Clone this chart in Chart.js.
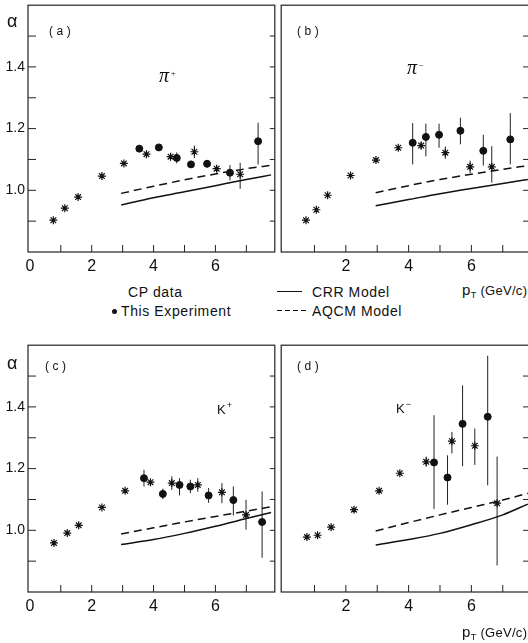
<!DOCTYPE html>
<html>
<head>
<meta charset="utf-8">
<script src="https://cdn.jsdelivr.net/npm/chart.js@4.4.1/dist/chart.umd.min.js"></script>
<style>
  html, body { margin: 0; padding: 0; background: #fff; }
  body { width: 528px; height: 643px; position: relative; overflow: hidden;
         font-family: "Liberation Sans", Arial, sans-serif; color: #111; }
  canvas { position: absolute; }
  .t { position: absolute; white-space: nowrap; line-height: 1; }
  .alpha { font-size: 18px; }
  .tag { font-size: 12px; letter-spacing: 3.5px; }
  .pi { font-family: "Liberation Serif", serif; font-style: italic; font-size: 20px; }
  .kaon { font-size: 13px; }
  .sup { position: relative; font-size: 9px; top: -6px; margin-left: 1px; }
  .leg { font-size: 14px; letter-spacing: 0.6px; }
  .axis { font-size: 13px; letter-spacing: 0.3px; }
  .axis .p { font-size: 15px; }
  .axis sub { font-size: 9px; position: relative; top: 3px; vertical-align: baseline; }
  .dot { position: absolute; width: 5px; height: 5px; border-radius: 50%; background: #111; }
  .solid { position: absolute; height: 1.3px; background: #111; }
  .dash { position: absolute; height: 1.3px;
          background: repeating-linear-gradient(90deg, #111 0 5px, transparent 5px 8px); }
</style>
</head>
<body>
<canvas id="pa" width="280" height="280" style="left:0;top:0"></canvas>
<canvas id="pb" width="264" height="280" style="left:276px;top:0"></canvas>
<canvas id="pc" width="280" height="280" style="left:0;top:340px"></canvas>
<canvas id="pd" width="264" height="280" style="left:276px;top:340px"></canvas>

<div class="t alpha" style="left:7px;top:12px">α</div>
<div class="t alpha" style="left:7px;top:354px">α</div>
<div class="t tag" style="left:49px;top:25px">(a)</div>
<div class="t tag" style="left:297px;top:25px">(b)</div>
<div class="t tag" style="left:45px;top:360px">(c)</div>
<div class="t tag" style="left:297px;top:360px">(d)</div>
<div class="t pi" style="left:159px;top:65px">π<span class="sup">+</span></div>
<div class="t pi" style="left:407px;top:57px">π<span class="sup">−</span></div>
<div class="t kaon" style="left:217px;top:403px">K<span class="sup">+</span></div>
<div class="t kaon" style="left:396px;top:402px">K<span class="sup">−</span></div>

<div class="t leg" style="left:128px;top:285px">CP data</div>
<div class="dot" style="left:112px;top:309px"></div>
<div class="t leg" style="left:121px;top:304px">This Experiment</div>
<div class="solid" style="left:277px;top:291px;width:25px"></div>
<div class="t leg" style="left:312px;top:285px">CRR Model</div>
<div class="dash" style="left:277px;top:310px;width:29px"></div>
<div class="t leg" style="left:312px;top:304px">AQCM Model</div>
<div class="t axis" style="left:462px;top:282px"><span class="p">p</span><sub>T</sub> (GeV/c)</div>
<div class="t axis" style="left:462px;top:624px"><span class="p">p</span><sub>T</sub> (GeV/c)</div>

<script>
// model curves share the same pT grid
const modelPt = [2.95, 4, 5, 6, 7, 7.8];

// (a) pi+
const piPlusCpPt = [0.76, 1.13, 1.56, 2.33, 3.04, 3.77, 4.55, 5.32, 6.04, 6.80];
const piPlusCpAlpha = [0.903, 0.942, 0.978, 1.046, 1.087, 1.117, 1.109, 1.125, 1.070, 1.052];
const piPlusCpUp = [0, 0, 0, 0, 0, 0.012, 0.012, 0.02, 0.01, 0.037];
const piPlusCpDown = [0, 0, 0, 0, 0, 0.012, 0.012, 0.02, 0.01, 0.047];
const piPlusExpPt = [3.54, 4.17, 4.75, 5.21, 5.73, 6.47, 7.38];
const piPlusExpAlpha = [1.135, 1.139, 1.105, 1.084, 1.086, 1.057, 1.159];
const piPlusExpUp = [0.008, 0.006, 0.018, 0.008, 0.012, 0.025, 0.06];
const piPlusExpDown = [0.008, 0.006, 0.018, 0.008, 0.012, 0.025, 0.075];
const piPlusCrr = [0.952, 0.976, 0.995, 1.015, 1.035, 1.05];
const piPlusAqcm = [0.99, 1.013, 1.034, 1.053, 1.07, 1.081];

// (b) pi-
const piMinusCpPt = [0.73, 1.06, 1.42, 2.15, 2.96, 3.67, 4.40, 5.17, 5.96, 6.65];
const piMinusCpAlpha = [0.903, 0.937, 0.984, 1.048, 1.098, 1.138, 1.145, 1.122, 1.076, 1.076];
const piMinusCpUp = [0, 0, 0, 0, 0, 0, 0.012, 0.02, 0.02, 0.067];
const piMinusCpDown = [0, 0, 0, 0, 0, 0, 0.012, 0.02, 0.02, 0.051];
const piMinusExpPt = [4.13, 4.55, 4.97, 5.65, 6.38, 7.24];
const piMinusExpAlpha = [1.154, 1.173, 1.180, 1.193, 1.128, 1.165];
const piMinusExpUp = [0.064, 0.043, 0.036, 0.042, 0.052, 0.085];
const piMinusExpDown = [0.07, 0.063, 0.042, 0.044, 0.048, 0.081];
const piMinusCrr = [0.95, 0.97, 0.989, 1.006, 1.022, 1.035];
const piMinusAqcm = [0.992, 1.015, 1.035, 1.052, 1.068, 1.08];

// (c) K+
const kPlusCpPt = [0.78, 1.21, 1.58, 2.33, 3.08, 3.90, 4.59, 5.43, 6.21, 6.99];
const kPlusCpAlpha = [0.959, 0.991, 1.016, 1.074, 1.128, 1.156, 1.153, 1.147, 1.123, 1.050];
const kPlusCpUp = [0, 0, 0, 0, 0, 0.01, 0.022, 0.022, 0.03, 0.049];
const kPlusCpDown = [0, 0, 0, 0, 0, 0.01, 0.022, 0.022, 0.035, 0.048];
const kPlusExpPt = [3.69, 4.30, 4.84, 5.19, 5.78, 6.58, 7.51];
const kPlusExpAlpha = [1.169, 1.118, 1.147, 1.142, 1.113, 1.098, 1.027];
const kPlusExpUp = [0.027, 0.017, 0.022, 0.022, 0.024, 0.044, 0.099];
const kPlusExpDown = [0.027, 0.017, 0.034, 0.022, 0.024, 0.05, 0.116];
const kPlusCrr = [0.954, 0.97, 0.99, 1.013, 1.038, 1.058];
const kPlusAqcm = [0.988, 1.008, 1.027, 1.045, 1.062, 1.076];

// (d) K-
const kMinusCpPt = [0.76, 1.10, 1.53, 2.26, 3.06, 3.72, 4.56, 5.38, 6.11, 6.82];
const kMinusCpAlpha = [0.978, 0.984, 1.010, 1.067, 1.128, 1.185, 1.222, 1.289, 1.274, 1.088];
const kMinusCpUp = [0, 0, 0, 0, 0, 0, 0.017, 0.03, 0.056, 0.151];
const kMinusCpDown = [0, 0, 0, 0, 0, 0, 0.016, 0.04, 0.062, 0.202];
const kMinusExpPt = [4.81, 5.24, 5.72, 6.52];
const kMinusExpAlpha = [1.220, 1.171, 1.345, 1.368];
const kMinusExpUp = [0.153, 0.072, 0.125, 0.198];
const kMinusExpDown = [0.151, 0.088, 0.137, 0.222];
const kMinusCrr = [0.952, 0.97, 0.99, 1.018, 1.05, 1.085];
const kMinusAqcm = [0.998, 1.025, 1.05, 1.074, 1.098, 1.12];

const yLabels = [10, 12, 14]; // alpha*10 that get a label
const ink = '#111';

Chart.defaults.color = ink;
Chart.defaults.font.family = '"Liberation Sans", Arial, sans-serif';

function toXY(xs, ys) {
  return xs.map((x, i) => ({ x, y: ys[i] }));
}

// vertical error bars, drawn under the markers
const errorBars = {
  id: 'errorBars',
  beforeDatasetsDraw(chart) {
    const { ctx } = chart;
    const y = chart.scales.y;
    ctx.save();
    ctx.strokeStyle = '#222';
    ctx.lineWidth = 1;
    chart.data.datasets.forEach((ds, i) => {
      if (!ds.errUp) return;
      chart.getDatasetMeta(i).data.forEach((pt, j) => {
        const v = ds.data[j].y;
        if (!ds.errUp[j] && !ds.errDown[j]) return;
        ctx.beginPath();
        ctx.moveTo(pt.x, y.getPixelForValue(v + ds.errUp[j]));
        ctx.lineTo(pt.x, y.getPixelForValue(v - ds.errDown[j]));
        ctx.stroke();
      });
    });
    ctx.restore();
  },
};

// box around the plot and inward tick marks
const frame = {
  id: 'frame',
  afterDatasetsDraw(chart, args, opts) {
    const { ctx, chartArea: a } = chart;
    const { x, y } = chart.scales;
    ctx.save();
    ctx.strokeStyle = '#222';
    ctx.lineWidth = 1.2;
    ctx.strokeRect(a.left, a.top, a.right - a.left, a.bottom - a.top);
    ctx.lineWidth = 1;
    ctx.beginPath();
    x.ticks.forEach((t) => {
      if (t.value < 0.5 || t.value > 7.5) return;
      const px = x.getPixelForValue(t.value);
      ctx.moveTo(px, a.bottom);
      ctx.lineTo(px, a.bottom - 7);
    });
    y.ticks.forEach((t) => {
      if (t.value < 0.85 || t.value > 1.55) return;
      const py = y.getPixelForValue(t.value);
      if (opts.leftTicks) {
        ctx.moveTo(a.left, py);
        ctx.lineTo(a.left + 8, py);
      }
      ctx.moveTo(a.right, py);
      ctx.lineTo(a.right - opts.rightTick, py);
    });
    ctx.stroke();
    ctx.restore();
  },
};

function panel(id, left, p) {
  const xLabels = left ? [0, 2, 4, 6] : [2, 4, 6];
  new Chart(document.getElementById(id), {
    type: 'scatter',
    data: {
      datasets: [
        {
          label: 'CRR Model',
          data: toXY(modelPt, p.crr),
          showLine: true,
          borderColor: ink,
          borderWidth: 1.5,
          pointRadius: 0,
          cubicInterpolationMode: 'monotone',
        },
        {
          label: 'AQCM Model',
          data: toXY(modelPt, p.aqcm),
          showLine: true,
          borderColor: ink,
          borderWidth: 1.5,
          borderDash: [8, 5],
          pointRadius: 0,
          cubicInterpolationMode: 'monotone',
        },
        {
          label: 'CP data',
          data: toXY(p.cpPt, p.cpAlpha),
          pointStyle: 'star',
          pointRadius: 4,
          borderColor: ink,
          borderWidth: 1.2,
          errUp: p.cpUp,
          errDown: p.cpDown,
        },
        {
          label: 'This Experiment',
          data: toXY(p.expPt, p.expAlpha),
          pointStyle: 'circle',
          pointRadius: 3.5,
          borderColor: ink,
          backgroundColor: ink,
          errUp: p.expUp,
          errDown: p.expDown,
        },
      ],
    },
    options: {
      responsive: false,
      devicePixelRatio: 1,
      animation: false,
      layout: { padding: left ? { top: 5, right: 3, left: 0, bottom: 0 } : { top: 5, right: 9, left: 1, bottom: 0 } },
      scales: {
        x: {
          type: 'linear',
          min: -0.06,
          max: left ? 7.92 : 7.9,
          grid: { display: false, drawTicks: false },
          border: { display: false },
          ticks: {
            stepSize: 1,
            includeBounds: false,
            autoSkip: false,
            maxRotation: 0,
            padding: 5,
            font: { size: 16 },
            callback: (v) => (xLabels.includes(v) ? String(v) : ''),
          },
          afterFit: (s) => {
            s.height = 28;
            s.paddingLeft = 0;
            s.paddingRight = 0;
          },
        },
        y: {
          type: 'linear',
          display: left,
          min: 0.8,
          max: 1.6,
          grid: { display: false, drawTicks: false },
          border: { display: false },
          ticks: {
            stepSize: 0.1,
            includeBounds: false,
            autoSkip: false,
            padding: 3,
            font: { size: 14 },
            callback: (v) => (yLabels.includes(Math.round(v * 10)) ? v.toFixed(1) : ''),
          },
          afterFit: (s) => {
            s.width = left ? 28 : 0;
            s.paddingTop = 0;
            s.paddingBottom = 0;
          },
        },
      },
      plugins: {
        legend: { display: false },
        tooltip: { enabled: false },
        frame: { leftTicks: left, rightTick: left ? 5 : 8 },
      },
    },
    plugins: [errorBars, frame],
  });
}

panel('pa', true, {
  cpPt: piPlusCpPt, cpAlpha: piPlusCpAlpha, cpUp: piPlusCpUp, cpDown: piPlusCpDown,
  expPt: piPlusExpPt, expAlpha: piPlusExpAlpha, expUp: piPlusExpUp, expDown: piPlusExpDown,
  crr: piPlusCrr, aqcm: piPlusAqcm,
});
panel('pb', false, {
  cpPt: piMinusCpPt, cpAlpha: piMinusCpAlpha, cpUp: piMinusCpUp, cpDown: piMinusCpDown,
  expPt: piMinusExpPt, expAlpha: piMinusExpAlpha, expUp: piMinusExpUp, expDown: piMinusExpDown,
  crr: piMinusCrr, aqcm: piMinusAqcm,
});
panel('pc', true, {
  cpPt: kPlusCpPt, cpAlpha: kPlusCpAlpha, cpUp: kPlusCpUp, cpDown: kPlusCpDown,
  expPt: kPlusExpPt, expAlpha: kPlusExpAlpha, expUp: kPlusExpUp, expDown: kPlusExpDown,
  crr: kPlusCrr, aqcm: kPlusAqcm,
});
panel('pd', false, {
  cpPt: kMinusCpPt, cpAlpha: kMinusCpAlpha, cpUp: kMinusCpUp, cpDown: kMinusCpDown,
  expPt: kMinusExpPt, expAlpha: kMinusExpAlpha, expUp: kMinusExpUp, expDown: kMinusExpDown,
  crr: kMinusCrr, aqcm: kMinusAqcm,
});
</script>
</body>
</html>
